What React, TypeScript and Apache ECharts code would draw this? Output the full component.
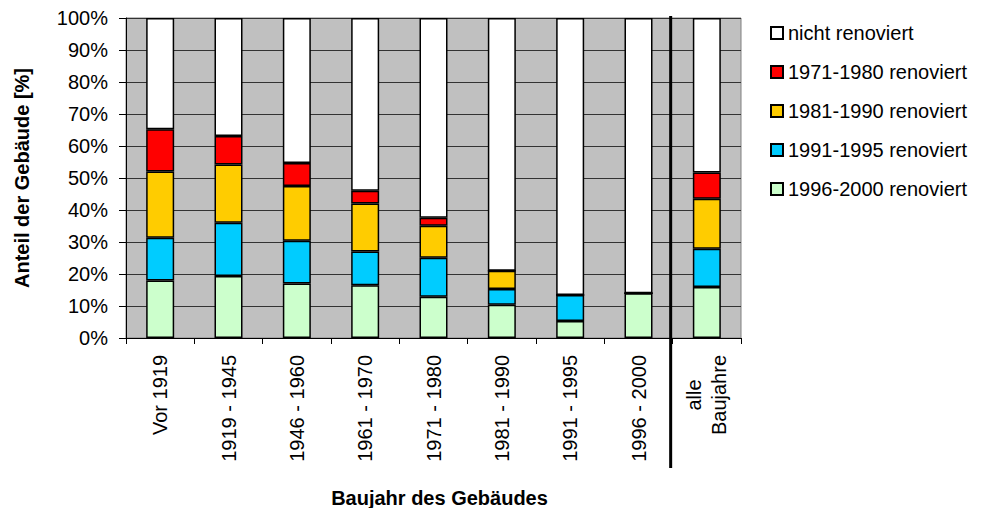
import React, { useEffect, useRef } from "react";
import * as echarts from "echarts";

const categories = [
  "Vor 1919",
  "1919 - 1945",
  "1946 - 1960",
  "1961 - 1970",
  "1971 - 1980",
  "1981 - 1990",
  "1991 - 1995",
  "1996 - 2000",
  "alle\nBaujahre",
];

const seriesNames = [
  "1996-2000 renoviert",
  "1991-1995 renoviert",
  "1981-1990 renoviert",
  "1971-1980 renoviert",
  "nicht renoviert",
];

const ren1996_2000 = [18, 19.4, 17, 16.5, 12.9, 10.4, 5.3, 14, 15.9];
const ren1991_1995 = [13.3, 16.6, 13.4, 10.5, 12.2, 4.9, 8.1, 0, 12];
const ren1981_1990 = [20.7, 18.2, 17.1, 15, 10, 5.7, 0, 0, 15.6];
const ren1971_1980 = [13.2, 8.9, 7.2, 4, 2.5, 0, 0, 0, 8.2];
const nichtRenoviert = [34.8, 36.9, 45.3, 54, 62.4, 79, 86.6, 86, 48.3];

const yTicks = [0, 10, 20, 30, 40, 50, 60, 70, 80, 90, 100];

const colors = ["#CCFFCC", "#00CCFF", "#FFCC00", "#FF0000", "#FFFFFF"];
const FONT = "'Liberation Sans', Arial, sans-serif";

export default function App() {
  const ref = useRef<HTMLDivElement>(null);
  useEffect(() => {
    if (!ref.current) return;
    const chart = echarts.init(ref.current, undefined, { renderer: "svg" });
    const values = [ren1996_2000, ren1991_1995, ren1981_1990, ren1971_1980, nichtRenoviert];
    chart.setOption({
      animation: false,
      textStyle: { fontFamily: FONT },
      grid: {
        left: 126,
        right: 244,
        top: 18,
        bottom: 170,
        outerBoundsMode: "none",
        containLabel: false,
        show: true,
        backgroundColor: "#C0C0C0",
        borderColor: "#808080",
        borderWidth: 1,
      },
      legend: {
        orient: "vertical",
        left: 765,
        top: 18,
        itemWidth: 12,
        itemHeight: 12,
        itemGap: 19,
        icon: "rect",
        data: [...seriesNames].reverse(),
        textStyle: { fontSize: 20, color: "#000", fontFamily: FONT },
      },
      xAxis: {
        type: "category",
        data: categories,
        boundaryGap: true,
        axisLine: { lineStyle: { color: "#000", width: 1 } },
        axisTick: { show: true, length: 6, alignWithLabel: false, lineStyle: { color: "#000" } },
        axisLabel: {
          rotate: 90,
          interval: 0,
          margin: 17,
          fontSize: 20,
          color: "#000",
          fontFamily: FONT,
          formatter: (v: string) =>
            v
              .split("\n")
              .map((s) => "{c|" + s + "}")
              .join("\n"),
          rich: {
            c: { align: "center", fontSize: 20, lineHeight: 25, fontFamily: FONT, color: "#000" },
          },
        },
        name: "Baujahr des Gebäudes",
        nameLocation: "middle",
        nameGap: 150,
        nameTextStyle: {
          fontSize: 20,
          fontWeight: "bold",
          color: "#000",
          fontFamily: FONT,
          padding: [0, 0, 0, 12],
        },
      },
      yAxis: {
        type: "value",
        min: yTicks[0],
        max: yTicks[yTicks.length - 1],
        interval: 10,
        axisLine: { show: true, lineStyle: { color: "#000", width: 1 } },
        axisTick: { show: true, length: 7, lineStyle: { color: "#000" } },
        axisLabel: {
          formatter: "{value}%",
          fontSize: 20,
          margin: 18,
          color: "#000",
          fontFamily: FONT,
        },
        splitLine: { show: true, lineStyle: { color: "#333", width: 1 } },
        name: "Anteil der Gebäude [%]",
        nameLocation: "middle",
        nameRotate: 90,
        nameGap: 94,
        nameTextStyle: { fontSize: 20, fontWeight: "bold", color: "#000", fontFamily: FONT },
      },
      series: seriesNames.map((name, i) => ({
        name,
        type: "bar",
        stack: "total",
        barWidth: 28,
        data: values[i],
        itemStyle: { color: colors[i], borderColor: "#000", borderWidth: 1.5 },
      })),
    });

    const x7 = chart.convertToPixel({ xAxisIndex: 0 }, categories[7]) as number;
    const x8 = chart.convertToPixel({ xAxisIndex: 0 }, categories[8]) as number;
    const yTop = chart.convertToPixel({ yAxisIndex: 0 }, yTicks[yTicks.length - 1]) as number;
    const yBottom = chart.convertToPixel({ yAxisIndex: 0 }, yTicks[0]) as number;
    const xs = (x7 + x8) / 2 - 2;
    chart.setOption({
      graphic: [
        {
          type: "line",
          shape: { x1: xs, y1: yTop - 2, x2: xs, y2: yBottom + 130 },
          style: { stroke: "#000", lineWidth: 3 },
          z: 100,
        },
      ],
    });

    return () => chart.dispose();
  }, []);
  return (
    <div
      ref={ref}
      style={{ position: "fixed", left: 0, top: 0, width: 985, height: 508, background: "#fff" }}
    />
  );
}
